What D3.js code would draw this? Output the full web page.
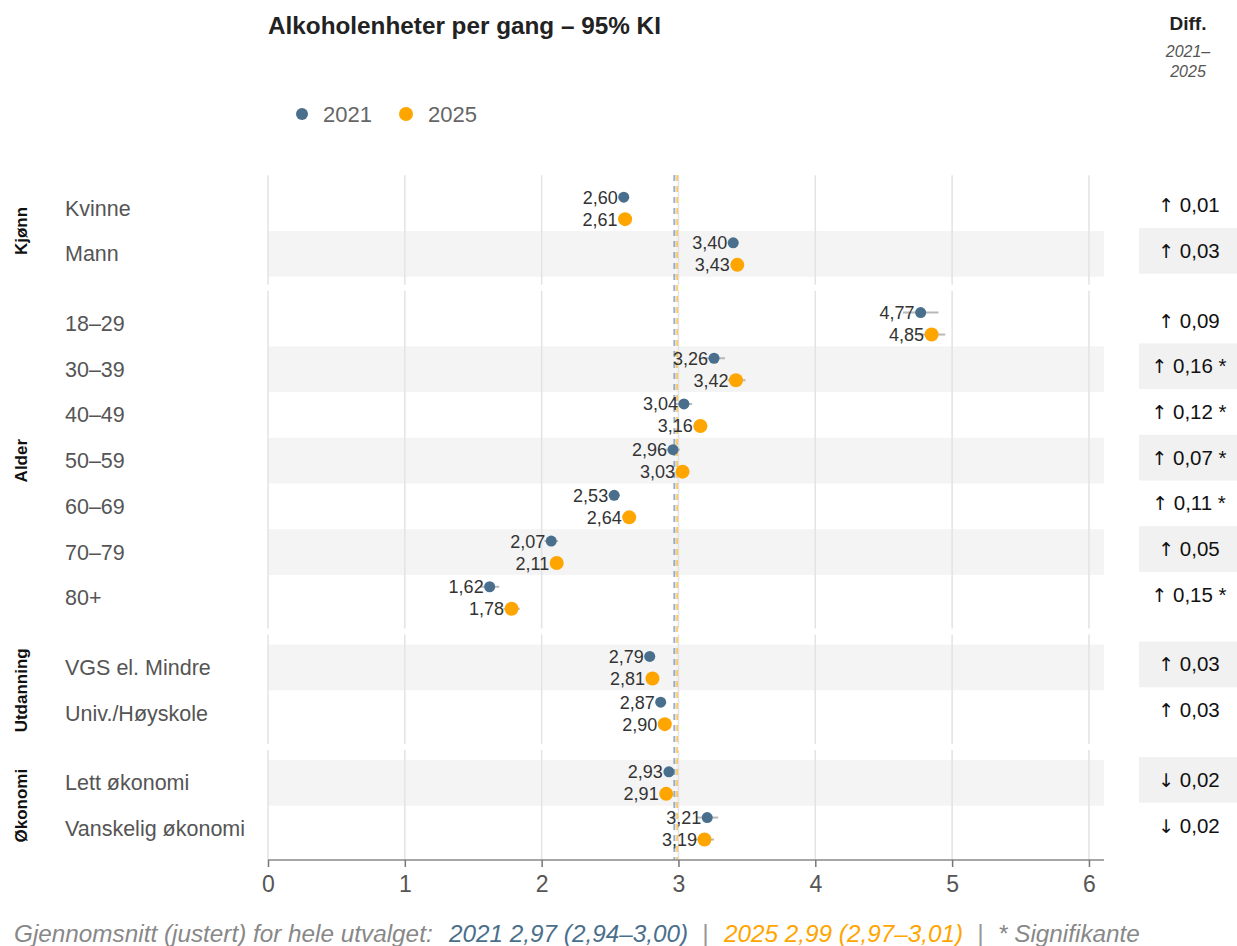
<!DOCTYPE html>
<html>
<head>
<meta charset="utf-8">
<script src="https://cdn.jsdelivr.net/npm/d3@7"></script>
<style>
  body { margin: 0; background: #fff; }
  svg { font-family: "Liberation Sans", Arial, sans-serif; }
</style>
</head>
<body>
<svg id="chart"></svg>
<script>
(function() {

  const title = 'Alkoholenheter per gang – 95% KI';
  const groups = ['Kjønn', 'Alder', 'Utdanning', 'Økonomi'];
  const categories = ['Kvinne', 'Mann', '18–29', '30–39', '40–49', '50–59', '60–69', '70–79', '80+',
    'VGS el. Mindre', 'Univ./Høyskole', 'Lett økonomi', 'Vanskelig økonomi'];
  const categoryGroup = [0, 0, 1, 1, 1, 1, 1, 1, 1, 2, 2, 3, 3];

  const values2021 = [2.60, 3.40, 4.77, 3.26, 3.04, 2.96, 2.53, 2.07, 1.62, 2.79, 2.87, 2.93, 3.21];
  const low2021 = [2.57, 3.36, 4.64, 3.18, 2.98, 2.91, 2.49, 2.02, 1.55, 2.75, 2.84, 2.90, 3.13];
  const high2021 = [2.63, 3.44, 4.90, 3.34, 3.10, 3.01, 2.57, 2.12, 1.69, 2.83, 2.90, 2.96, 3.29];

  const values2025 = [2.61, 3.43, 4.85, 3.42, 3.16, 3.03, 2.64, 2.11, 1.78, 2.81, 2.90, 2.91, 3.19];
  const low2025 = [2.58, 3.40, 4.75, 3.36, 3.11, 2.99, 2.60, 2.07, 1.72, 2.78, 2.87, 2.88, 3.12];
  const high2025 = [2.64, 3.46, 4.95, 3.49, 3.21, 3.07, 2.68, 2.15, 1.84, 2.84, 2.93, 2.94, 3.26];

  const diffs = [0.01, 0.03, 0.09, 0.16, 0.12, 0.07, 0.11, 0.05, 0.15, 0.03, 0.03, -0.02, -0.02];
  const significant = [false, false, false, true, true, true, true, false, true, false, false, false, false];

  const xTicks = [0, 1, 2, 3, 4, 5, 6];
  const mean2021 = 2.97, mean2025 = 2.99;
  const footerParts = ['Gjennomsnitt (justert) for hele utvalget:', '2021 2,97 (2,94–3,00)', '2025 2,99 (2,97–3,01)', '* Signifikante'];

  const width = 1237;
  const height = 946;
  const color2021 = '#4a6f8c';
  const color2025 = '#ffa500';
  const rowH = 45.7;
  const groupGap = 24;
  const plotTop = 185.3;
  const axisY = 860;

  const fmt = function(v) { return v.toFixed(2).replace('.', ','); };

  const svg = d3.select('#chart')
    .attr('width', width)
    .attr('height', height);

  const x = d3.scaleLinear().domain([0, 6.11]).range([268, 1104]);

  // row top positions
  const rowTop = categories.map(function(d, i) {
    return plotTop + i * rowH + categoryGroup[i] * groupGap;
  });
  const rowMid = rowTop.map(function(t) { return t + rowH / 2; });

  // shaded bands (odd rows)
  const bands = svg.append('g').attr('class', 'bands');
  categories.forEach(function(d, i) {
    if (i % 2 === 1) {
      bands.append('rect')
        .attr('x', x.range()[0]).attr('y', rowTop[i])
        .attr('width', x.range()[1] - x.range()[0]).attr('height', rowH)
        .attr('fill', '#f4f4f4');
      bands.append('rect')
        .attr('x', 1139).attr('y', rowTop[i] - 3)
        .attr('width', 98).attr('height', rowH)
        .attr('fill', '#f1f1f1');
    }
  });

  // vertical grid per group
  const grid = svg.append('g').attr('class', 'grid');
  groups.forEach(function(g, gi) {
    const idx = categoryGroup.map(function(c, i) { return c === gi ? i : -1; }).filter(function(i) { return i >= 0; });
    const top = rowTop[idx[0]] - 10;
    const bottom = gi === groups.length - 1 ? axisY : rowTop[idx[idx.length - 1]] + rowH + 8;
    grid.selectAll(null)
      .data(xTicks)
      .enter()
      .append('line')
      .attr('x1', function(d) { return x(d); })
      .attr('x2', function(d) { return x(d); })
      .attr('y1', top)
      .attr('y2', bottom)
      .attr('stroke', '#e3e3e3')
      .attr('stroke-width', 1.5);
  });

  // reference lines
  [[mean2021, color2021], [mean2025, color2025]].forEach(function(m) {
    svg.append('line')
      .attr('x1', x(m[0])).attr('x2', x(m[0]))
      .attr('y1', 175).attr('y2', axisY)
      .attr('stroke', m[1])
      .attr('stroke-opacity', 0.55)
      .attr('stroke-width', 2)
      .attr('stroke-dasharray', '6,5');
  });

  // title
  svg.append('text')
    .attr('x', 268).attr('y', 34)
    .style('font-size', '24.3px').style('font-weight', 'bold')
    .attr('fill', '#222')
    .text(title);

  // legend
  const legend = svg.append('g').attr('class', 'legend');
  legend.append('circle').attr('cx', 302).attr('cy', 114).attr('r', 6).attr('fill', color2021);
  legend.append('text').attr('x', 323).attr('y', 122).style('font-size', '22px').attr('fill', '#666').text('2021');
  legend.append('circle').attr('cx', 406).attr('cy', 114).attr('r', 7).attr('fill', color2025);
  legend.append('text').attr('x', 428).attr('y', 122).style('font-size', '22px').attr('fill', '#666').text('2025');

  // diff header
  svg.append('text').attr('x', 1188).attr('y', 30).attr('text-anchor', 'middle')
    .style('font-size', '19px').style('font-weight', 'bold').attr('fill', '#222').text('Diff.');
  svg.append('text').attr('x', 1188).attr('y', 57).attr('text-anchor', 'middle')
    .style('font-size', '16px').style('font-style', 'italic').attr('fill', '#555').text('2021–');
  svg.append('text').attr('x', 1188).attr('y', 77).attr('text-anchor', 'middle')
    .style('font-size', '16px').style('font-style', 'italic').attr('fill', '#555').text('2025');

  // group labels
  groups.forEach(function(g, gi) {
    const idx = categoryGroup.map(function(c, i) { return c === gi ? i : -1; }).filter(function(i) { return i >= 0; });
    const mid = (rowTop[idx[0]] + rowTop[idx[idx.length - 1]] + rowH) / 2;
    svg.append('text')
      .attr('transform', 'translate(27,' + mid + ') rotate(-90)')
      .attr('text-anchor', 'middle')
      .style('font-size', '17px').style('font-weight', 'bold')
      .attr('fill', '#111')
      .text(g);
  });

  // category labels
  svg.append('g').selectAll('text')
    .data(categories)
    .enter()
    .append('text')
    .attr('x', 65)
    .attr('y', function(d, i) { return rowMid[i] + 7.5; })
    .style('font-size', '21.5px')
    .attr('fill', '#555')
    .text(function(d) { return d; });

  // points
  const series = [
    { vals: values2021, low: low2021, high: high2021, color: color2021, r: 5.5, dy: -11 },
    { vals: values2025, low: low2025, high: high2025, color: color2025, r: 7, dy: 11 }
  ];

  series.forEach(function(s) {
    const g = svg.append('g');
    const pt = g.selectAll('g')
      .data(s.vals)
      .enter()
      .append('g');

    pt.append('line')
      .attr('x1', function(d, i) { return x(s.low[i]); })
      .attr('x2', function(d, i) { return x(s.high[i]); })
      .attr('y1', function(d, i) { return rowMid[i] + s.dy; })
      .attr('y2', function(d, i) { return rowMid[i] + s.dy; })
      .attr('stroke', '#b8b8b8')
      .attr('stroke-width', 2);

    pt.append('circle')
      .attr('cx', function(d) { return x(d); })
      .attr('cy', function(d, i) { return rowMid[i] + s.dy; })
      .attr('r', s.r)
      .attr('fill', s.color);

    pt.append('text')
      .attr('x', function(d) { return x(d) - s.r - 0.5; })
      .attr('y', function(d, i) { return rowMid[i] + s.dy + 6.5; })
      .attr('text-anchor', 'end')
      .style('font-size', '18px')
      .attr('fill', '#333')
      .text(function(d) { return fmt(d); });
  });

  // diff column
  const diffText = svg.append('g').selectAll('text')
    .data(diffs)
    .enter()
    .append('text')
    .attr('x', 1189)
    .attr('y', function(d, i) { return rowMid[i] + 4; })
    .attr('text-anchor', 'middle')
    .style('font-size', '20.5px')
    .attr('fill', '#111');
  diffText.append('tspan')
    .style('font-family', '"DejaVu Sans", sans-serif')
    .style('font-size', '19px')
    .text(function(d) { return d >= 0 ? '↑' : '↓'; });
  diffText.append('tspan')
    .text(function(d, i) { return ' ' + fmt(Math.abs(d)) + (significant[i] ? ' *' : ''); });

  // x axis
  const xAxis = d3.axisBottom(x).tickValues(xTicks).tickSize(7).tickPadding(9).tickFormat(d3.format('d'));
  const ax = svg.append('g')
    .attr('transform', 'translate(0,' + axisY + ')')
    .call(xAxis);
  ax.select('.domain').attr('stroke', '#888').attr('stroke-width', 1.5).attr('d', 'M268,0H1104');
  ax.selectAll('.tick line').attr('stroke', '#777').attr('stroke-width', 1.5);
  ax.selectAll('.tick text').style('font-size', '23px').attr('fill', '#555')
    .style('font-family', '"Liberation Sans", Arial, sans-serif');

  // footer
  const footer = svg.append('text')
    .attr('y', 942)
    .style('font-size', '24.3px').style('font-style', 'italic');
  footer.append('tspan').attr('x', 14).attr('fill', '#888').text(footerParts[0]);
  footer.append('tspan').attr('x', 449).attr('fill', color2021).text(footerParts[1]);
  footer.append('tspan').attr('x', 702).attr('fill', '#999').text('|');
  footer.append('tspan').attr('x', 724).attr('fill', color2025).text(footerParts[2]);
  footer.append('tspan').attr('x', 977).attr('fill', '#999').text('|');
  footer.append('tspan').attr('x', 998).attr('fill', '#888').text(footerParts[3]);

})();
</script>
</body>
</html>
